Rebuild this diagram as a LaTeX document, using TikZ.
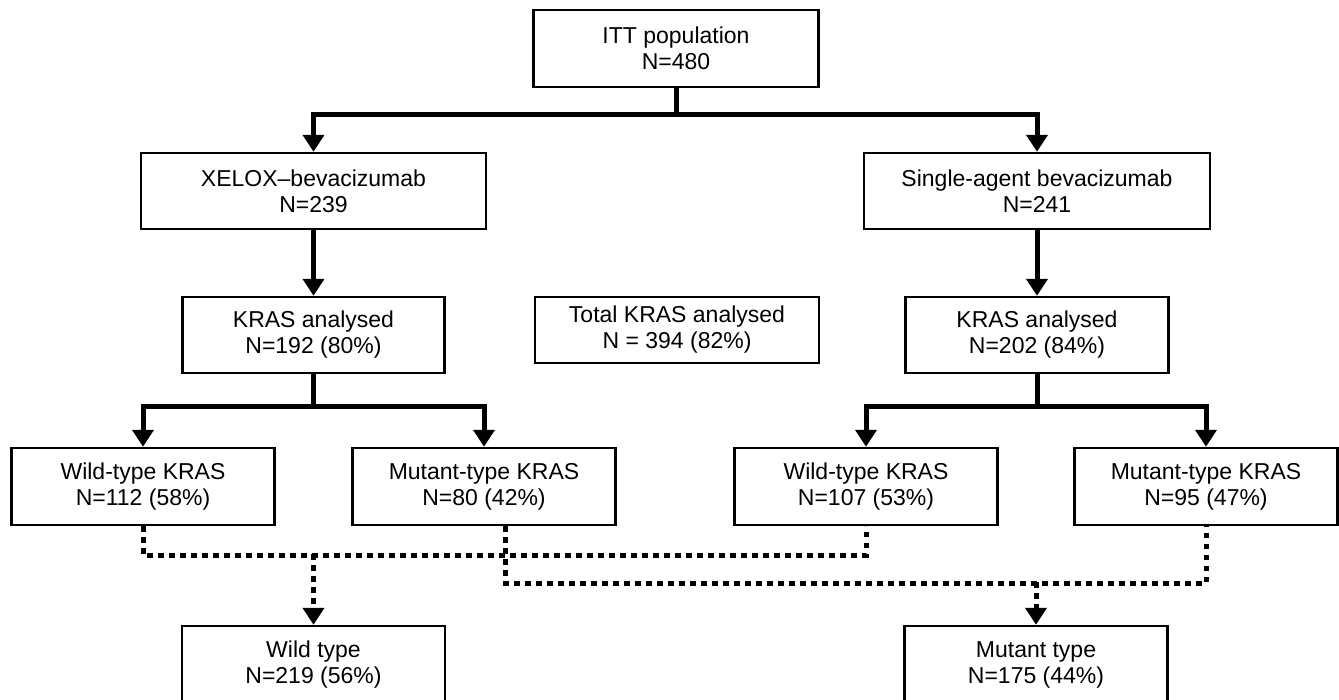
\documentclass[tikz,border=0pt]{standalone}
\usepackage{fontspec}
\setmainfont{Liberation Sans}
\usetikzlibrary{arrows.meta}

\begin{document}
\begin{tikzpicture}[x=1pt, y=-1pt,
    main/.style = {draw, line width=2.5pt, inner sep=0pt, align=center, minimum width=263pt, minimum height=77pt, font=\fontsize{23}{26}\selectfont},
    link/.style = {line width=5pt, -{Triangle[width=21pt,length=17pt]}},
    dotline/.style = {line width=5pt, dash pattern=on 5.5pt off 5.5pt}]
    \useasboundingbox (0,0) rectangle (1339,699);
    \node[main, minimum width=285pt] (1) at (676,48.5) {ITT population\\N=480};
    \node[main, minimum width=345pt, minimum height=76pt] (2) at (313.5,191) {XELOX--bevacizumab\\N=239};
    \node[main, minimum width=346pt, minimum height=76pt] (3) at (1037,191) {Single-agent bevacizumab\\N=241};
    \node[main, minimum width=262pt, minimum height=76pt] (4) at (313.5,335) {KRAS analysed\\N=192 (80\%)};
    \node[main, minimum width=284pt, minimum height=66pt] (5) at (677,330) {Total KRAS analysed\\N = 394 (82\%)};
    \node[main, minimum width=263pt, minimum height=76pt] (6) at (1037,335) {KRAS analysed\\N=202 (84\%)};
    \node[main] (7) at (143,486.5) {Wild-type KRAS\\N=112 (58\%)};
    \node[main] (8) at (484,486.5) {Mutant-type KRAS\\N=80 (42\%)};
    \node[main] (9) at (866,486.5) {Wild-type KRAS\\N=107 (53\%)};
    \node[main] (10) at (1206,486.5) {Mutant-type KRAS\\N=95 (47\%)};
    \node[main, minimum height=78pt] (11) at (313.5,665) {Wild type\\N=219 (56\%)};
    \node[main, minimum height=78pt] (12) at (1036,665) {Mutant type\\N=175 (44\%)};
    \draw[link] (1.south) -- ++(0,26) -| (2.north);
    \draw[link] (1.south) -- ++(0,26) -| (3.north);
    \draw[link] (2) -- (4);
    \draw[link] (3) -- (6);
    \draw[link] (4.south) -- ++(0,32) -| (7.north);
    \draw[link] (4.south) -- ++(0,32) -| (8.north);
    \draw[link] (6.south) -- ++(0,32) -| (9.north);
    \draw[link] (6.south) -- ++(0,32) -| (10.north);
    % pooled groups
    \draw[dotline] (7.south) -- ++(0,29) -| (9.south);
    \draw[dotline] ([xshift=21pt]8.south) -- ++(0,57) -| (10.south);
    \coordinate (a) at (11.north |- 0,554);
    \coordinate (b) at (12.north |- 0,582);
    \draw[dotline, link] (a) -- (11.north);
    \draw[dotline, link] (b) -- (12.north);
\end{tikzpicture}
\end{document}
